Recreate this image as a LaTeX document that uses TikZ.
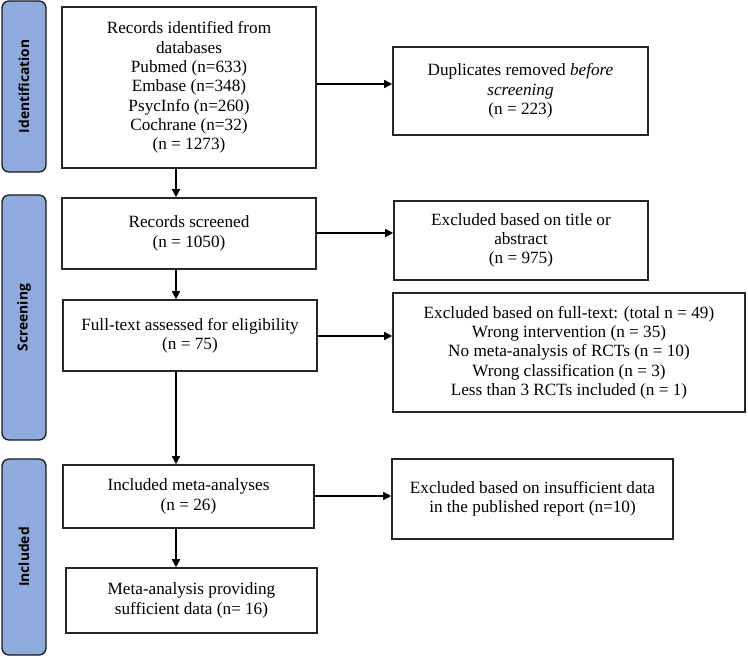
\documentclass[tikz,border=0pt]{standalone}
\usepackage{fontspec}
\setmainfont{Liberation Serif}
\newfontfamily\bandfont{Open Sans}
\usetikzlibrary{arrows.meta}
\definecolor{bandblue}{HTML}{8FAADC}
\tikzset{
  box/.style={draw=black!85, line width=1.6pt, fill=white, inner sep=0pt, align=center,
    font=\fontsize{17.2}{19.3}\selectfont},
  band/.style={draw=black!90, line width=1.3pt, fill=bandblue, rounded corners=7pt},
  bandtext/.style={rotate=90, font=\bandfont\bfseries\fontsize{13.8}{16}\selectfont},
  arr/.style={line width=1.5pt, -{Triangle[length=8pt,width=8pt]}}
}
\begin{document}
\begin{tikzpicture}[x=1pt,y=-1pt]
\useasboundingbox (0,0) rectangle (748,656);
% side bands
\draw[band] (2,1) rectangle (46,172);
\node[bandtext] (tid) at (24,86.5) {Identification};
\draw[band] (2,195) rectangle (46,440);
\node[bandtext] (tsc) at (24,317.5) {Screening};
\draw[band] (2,459) rectangle (46,655);
\node[bandtext] (tin) at (24,557) {Included};
% boxes
\node[box, minimum width=254pt, minimum height=161pt] (id) at (189,87.5)
  {Records identified from\\databases\\Pubmed (n=633)\\Embase (n=348)\\PsycInfo (n=260)\\Cochrane (n=32)\\(n = 1273)};
\node[box, minimum width=255pt, minimum height=88pt] (dup) at (520.5,91)
  {Duplicates removed \textit{before}\\\textit{screening}\\(n = 223)};
\node[box, minimum width=254pt, minimum height=71pt] (scr) at (189,233.5)
  {Records screened\\(n = 1050)};
\node[box, minimum width=254pt, minimum height=79pt] (ext) at (521,240.5)
  {Excluded based on title or\\abstract\\(n = 975)};
\node[box, minimum width=254pt, minimum height=71pt] (ft) at (190,335.5)
  {Full-text assessed for eligibility\\(n = 75)};
\node[box, minimum width=352pt, minimum height=119pt] (exf) at (569,352.5)
  {Excluded based on full-text: (total n = 49)\\Wrong intervention (n = 35)\\No meta-analysis of RCTs (n = 10)\\Wrong classification (n = 3)\\Less than 3 RCTs included (n = 1)};
\node[box, minimum width=251pt, minimum height=63pt] (inc) at (188.5,496.5)
  {Included meta-analyses\\(n = 26)};
\node[box, minimum width=281pt, minimum height=80pt] (exi) at (532.5,499)
  {Excluded based on insufficient data\\in the published report (n=10)};
\node[box, minimum width=251pt, minimum height=65pt] (fin) at (191.5,600.5)
  {Meta-analysis providing\\sufficient data (n= 16)};
% horizontal arrows
\draw[arr] (id.east |- 0,84) -- (dup.west |- 0,84);
\draw[arr] (scr.east |- 0,233) -- (ext.west |- 0,233);
\draw[arr] (ft.east |- 0,336) -- (exf.west |- 0,336);
\draw[arr] (inc.east |- 0,496) -- (exi.west |- 0,496);
% vertical arrows
\draw[arr] (id.south -| 176,0) -- (scr.north -| 176,0);
\draw[arr] (scr.south -| 176,0) -- (ft.north -| 176,0);
\draw[arr] (ft.south -| 176,0) -- (inc.north -| 176,0);
\draw[arr] (inc.south -| 176,0) -- (fin.north -| 176,0);
\end{tikzpicture}
\end{document}
